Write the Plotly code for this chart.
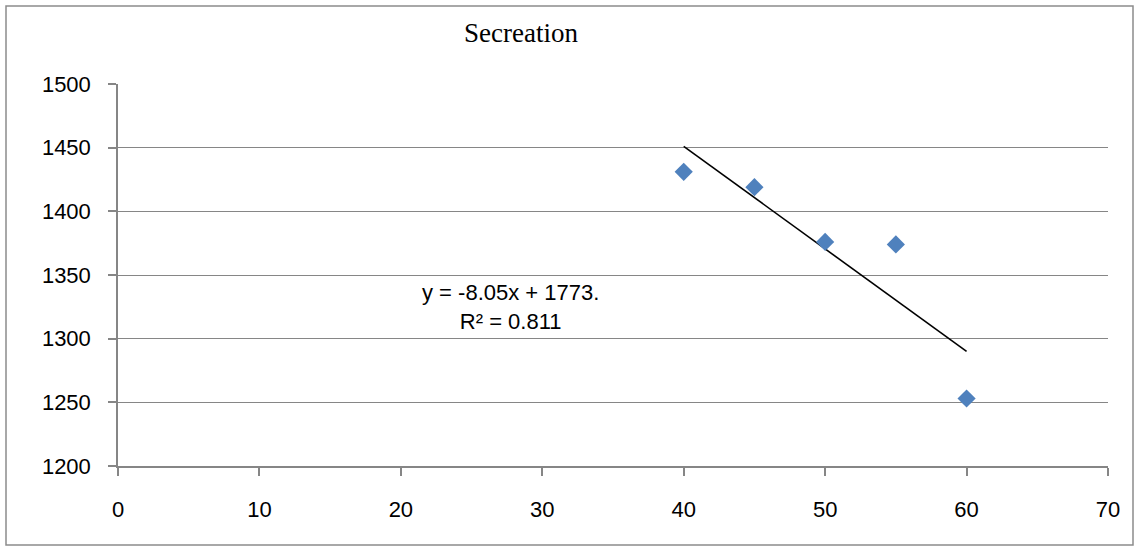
import plotly.graph_objects as go

# Data
x_values = [40, 45, 50, 55, 60]
secretion = [1431, 1419, 1376, 1374, 1253]
trend_slope = -8.05
trend_intercept = 1773
trend_label = "y = -8.05x + 1773.<br>R² = 0.811"
chart_title = "Secreation"
x_ticks = [0, 10, 20, 30, 40, 50, 60, 70]
y_ticks = [1200, 1250, 1300, 1350, 1400, 1450, 1500]

W, H = 1135, 547
L, R, T, B = 118, 27, 84, 81
PW, PH = W - L - R, H - T - B


def px_to_paper(px, py):
    return (px - L) / PW, (H - B - py) / PH


trend_x = [min(x_values), max(x_values)]
trend_y = [trend_slope * v + trend_intercept for v in trend_x]

fig = go.Figure()
fig.add_trace(go.Scatter(
    x=trend_x, y=trend_y, mode="lines",
    line=dict(color="black", width=1.6),
    showlegend=False, hoverinfo="skip",
))
fig.add_trace(go.Scatter(
    x=x_values, y=secretion, mode="markers",
    marker=dict(symbol="diamond", size=14, color="#4F81BD",
                line=dict(width=0)),
    showlegend=False,
))

tick_font = dict(family="Liberation Sans, Arial, sans-serif", size=22, color="#000000")

fig.update_xaxes(
    range=[0, 70], tickvals=x_ticks, showgrid=False,
    showline=True, linecolor="#868686", linewidth=1.5,
    ticks="outside", ticklen=8, tickcolor="#868686", tickwidth=1.5,
    tickfont=tick_font, ticklabelstandoff=15, zeroline=False,
)
fig.update_yaxes(
    range=[1200, 1500], tickvals=y_ticks, showgrid=True,
    gridcolor="#868686", gridwidth=1.4,
    showline=True, linecolor="#868686", linewidth=1.5,
    ticks="outside", ticklen=8, tickcolor="#868686", tickwidth=1.5,
    tickfont=tick_font, ticklabelstandoff=13, zeroline=False,
)

tx, ty = px_to_paper(521, 33)
ax, ay = px_to_paper(510, 307)
bx0, by0 = px_to_paper(6, 545)
bx1, by1 = px_to_paper(1133, 6)

fig.update_layout(
    width=W, height=H,
    margin=dict(l=L, r=R, t=T, b=B),
    paper_bgcolor="white", plot_bgcolor="white",
    annotations=[
        dict(text=chart_title, x=tx, y=ty, xref="paper", yref="paper",
             showarrow=False, xanchor="center", yanchor="middle",
             font=dict(family="Liberation Serif, Times New Roman, serif", size=27, color="black")),
        dict(text=trend_label, x=ax, y=ay, xref="paper", yref="paper",
             showarrow=False, xanchor="center", yanchor="middle", align="center",
             font=dict(family="Liberation Sans, Arial, sans-serif", size=22, color="black")),
    ],
    shapes=[
        dict(type="rect", xref="paper", yref="paper", x0=bx0, y0=by0, x1=bx1, y1=by1,
             line=dict(color="#8c8c8c", width=1.5), fillcolor="rgba(0,0,0,0)", layer="below"),
    ],
)

fig.write_html("out.html")
